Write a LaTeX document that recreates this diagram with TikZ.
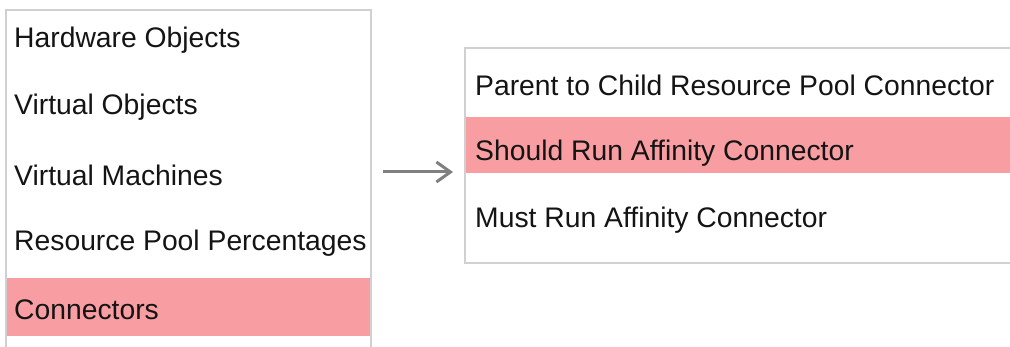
\documentclass[tikz,border=0pt]{standalone}
\usepackage{fontspec}
\setmainfont{Liberation Sans}
\usetikzlibrary{arrows.meta}
\definecolor{hl}{RGB}{248,158,162}
\definecolor{bord}{RGB}{208,208,208}
\definecolor{arr}{RGB}{128,128,128}
\definecolor{txt}{RGB}{20,20,20}
\tikzset{
  item/.style={anchor=west, inner sep=0pt, font=\fontsize{28.3}{30}\selectfont, text=txt},
  boxline/.style={draw=bord, line width=1.2pt},
  band/.style={fill=hl, draw=none},
}
\begin{document}
\begin{tikzpicture}[x=1pt,y=-1pt]
\useasboundingbox (0,0) rectangle (1010,347);
% left list
\draw[boxline] (6,347) -- (6,10) -- (371,10) -- (371,347);
\fill[band] (7,278) rectangle (370,336);
\node[item] (h) at (14,40) {Hardware Objects};
\node[item] (vo) at (14,107) {Virtual Objects};
\node[item] (vm) at (14,175) {Virtual Machines};
\node[item] (rp) at (14,243) {Resource Pool Percentages};
\node[item] (co) at (14,310) {Connectors};
% right list
\draw[boxline] (1012,48) -- (465,48) -- (465,263) -- (1012,263);
\fill[band] (466,117) rectangle (1012,173);
\node[item] (pc) at (475,85) {Parent to Child Resource Pool Connector};
\node[item] (sr) at (475,153) {Should Run Affinity Connector};
\node[item] (mr) at (475,220) {Must Run Affinity Connector};
% arrow
\coordinate (a1) at (383,172);
\coordinate (a2) at (453,172);
\draw[arr, line width=3pt, -{Straight Barb[length=14pt,width=20pt]}] (a1) -- (a2);
\end{tikzpicture}
\end{document}
